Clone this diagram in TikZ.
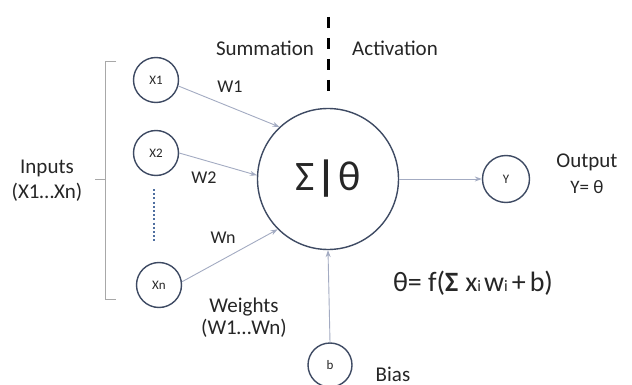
\documentclass[tikz,border=0pt]{standalone}
\usepackage{fontspec}
\setmainfont{Carlito}
\usetikzlibrary{arrows.meta}
\definecolor{circ}{HTML}{3E4A63}
\definecolor{arr}{HTML}{A3ABC2}
\definecolor{txt}{HTML}{262626}
\definecolor{brk}{HTML}{A8A8A8}
\definecolor{dots}{HTML}{4F6FA0}
\tikzset{
  neuron/.style={circle,draw=circ,line width=1.4pt,inner sep=0pt,text=txt},
  small/.style={neuron,minimum size=45pt,font=\fontsize{13}{13}\selectfont},
  lbl/.style={text=txt,font=\fontsize{21}{23}\selectfont,inner sep=0pt,align=center},
  conn/.style={draw=arr,line width=0.9pt,-{Stealth[length=7pt,width=5pt]}},
}
\newcommand{\subi}{{\fontsize{16}{16}\selectfont i}}
\begin{document}
\begin{tikzpicture}[x=1pt,y=-1pt]
\useasboundingbox (0,0) rectangle (632,385);
\fill[white] (0,0) rectangle (632,385);
% nodes
\node[small] (x1) at (156,80) {X1};
\node[small] (x2) at (156,153) {X2};
\node[small] (xn) at (159,285) {Xn};
\node[neuron,minimum size=141pt,font=\fontsize{42}{42}\selectfont] (big) at (328,179) {Σ\hspace{2pt}\textbf{|}\hspace{2pt}θ};
\node[small,minimum size=47pt] (y) at (506,179) {Y};
\node[small,minimum size=44pt] (b) at (330,365) {b};
% dotted
\coordinate (d1) at (154,189);
\coordinate (d2) at (154,243);
\draw[dots,line width=2.2pt,dash pattern=on 2pt off 2.2pt] (d1) -- (d2);
% bracket
\coordinate (bt) at (116,62);
\coordinate (btc) at (105,62);
\coordinate (bb) at (116,299);
\coordinate (bbc) at (105,299);
\coordinate (bm) at (105,180);
\coordinate (bml) at (95,180);
\draw[brk,line width=1pt] (bt) -- (btc) -- (bbc) -- (bb);
\draw[brk,line width=1pt] (bm) -- (bml);
% dashed divider
\coordinate (v1) at (328,17);
\coordinate (v2) at (328,99);
\draw[black,line width=3pt,dash pattern=on 11pt off 10pt] (v1) -- (v2);
% connectors
\draw[conn] (x1.-15) -- (big.133);
\draw[conn] (x2.east) -- (big.177);
\draw[conn] (xn.8) -- (big.225);
\draw[conn] (big.east) -- (y.west);
\draw[conn] (b.north) -- (big.south);
% labels
\node[lbl] (sum) at (265,48) {Summation};
\node[lbl] (act) at (395,48) {Activation};
\node[lbl,font=\fontsize{18}{20}\selectfont] (w1) at (230,87) {W1};
\node[lbl,font=\fontsize{18}{20}\selectfont] (w2) at (204,178) {W2};
\node[lbl,font=\fontsize{18}{20}\selectfont] (wn) at (223,238) {Wn};
\node[lbl] (inp) at (47,168) {Inputs};
\node[lbl] (inp2) at (47,192) {(X1…Xn)};
\node[lbl] (wt) at (244,307) {Weights};
\node[lbl] (wt2) at (244,328) {(W1…Wn)};
\node[lbl] (bias) at (393,374) {Bias};
\node[lbl] (out) at (587,162) {Output};
\node[lbl,font=\fontsize{19}{21}\selectfont] (out2) at (587,187) {Y= θ};
\node[lbl,font=\fontsize{28}{30}\selectfont] (form) at (473,283) {θ= f(\textbf{Σ}\hspace{7pt}x\subi\hspace{3pt}w\subi\hspace{4pt}+\hspace{4pt}b)};
\end{tikzpicture}
\end{document}
